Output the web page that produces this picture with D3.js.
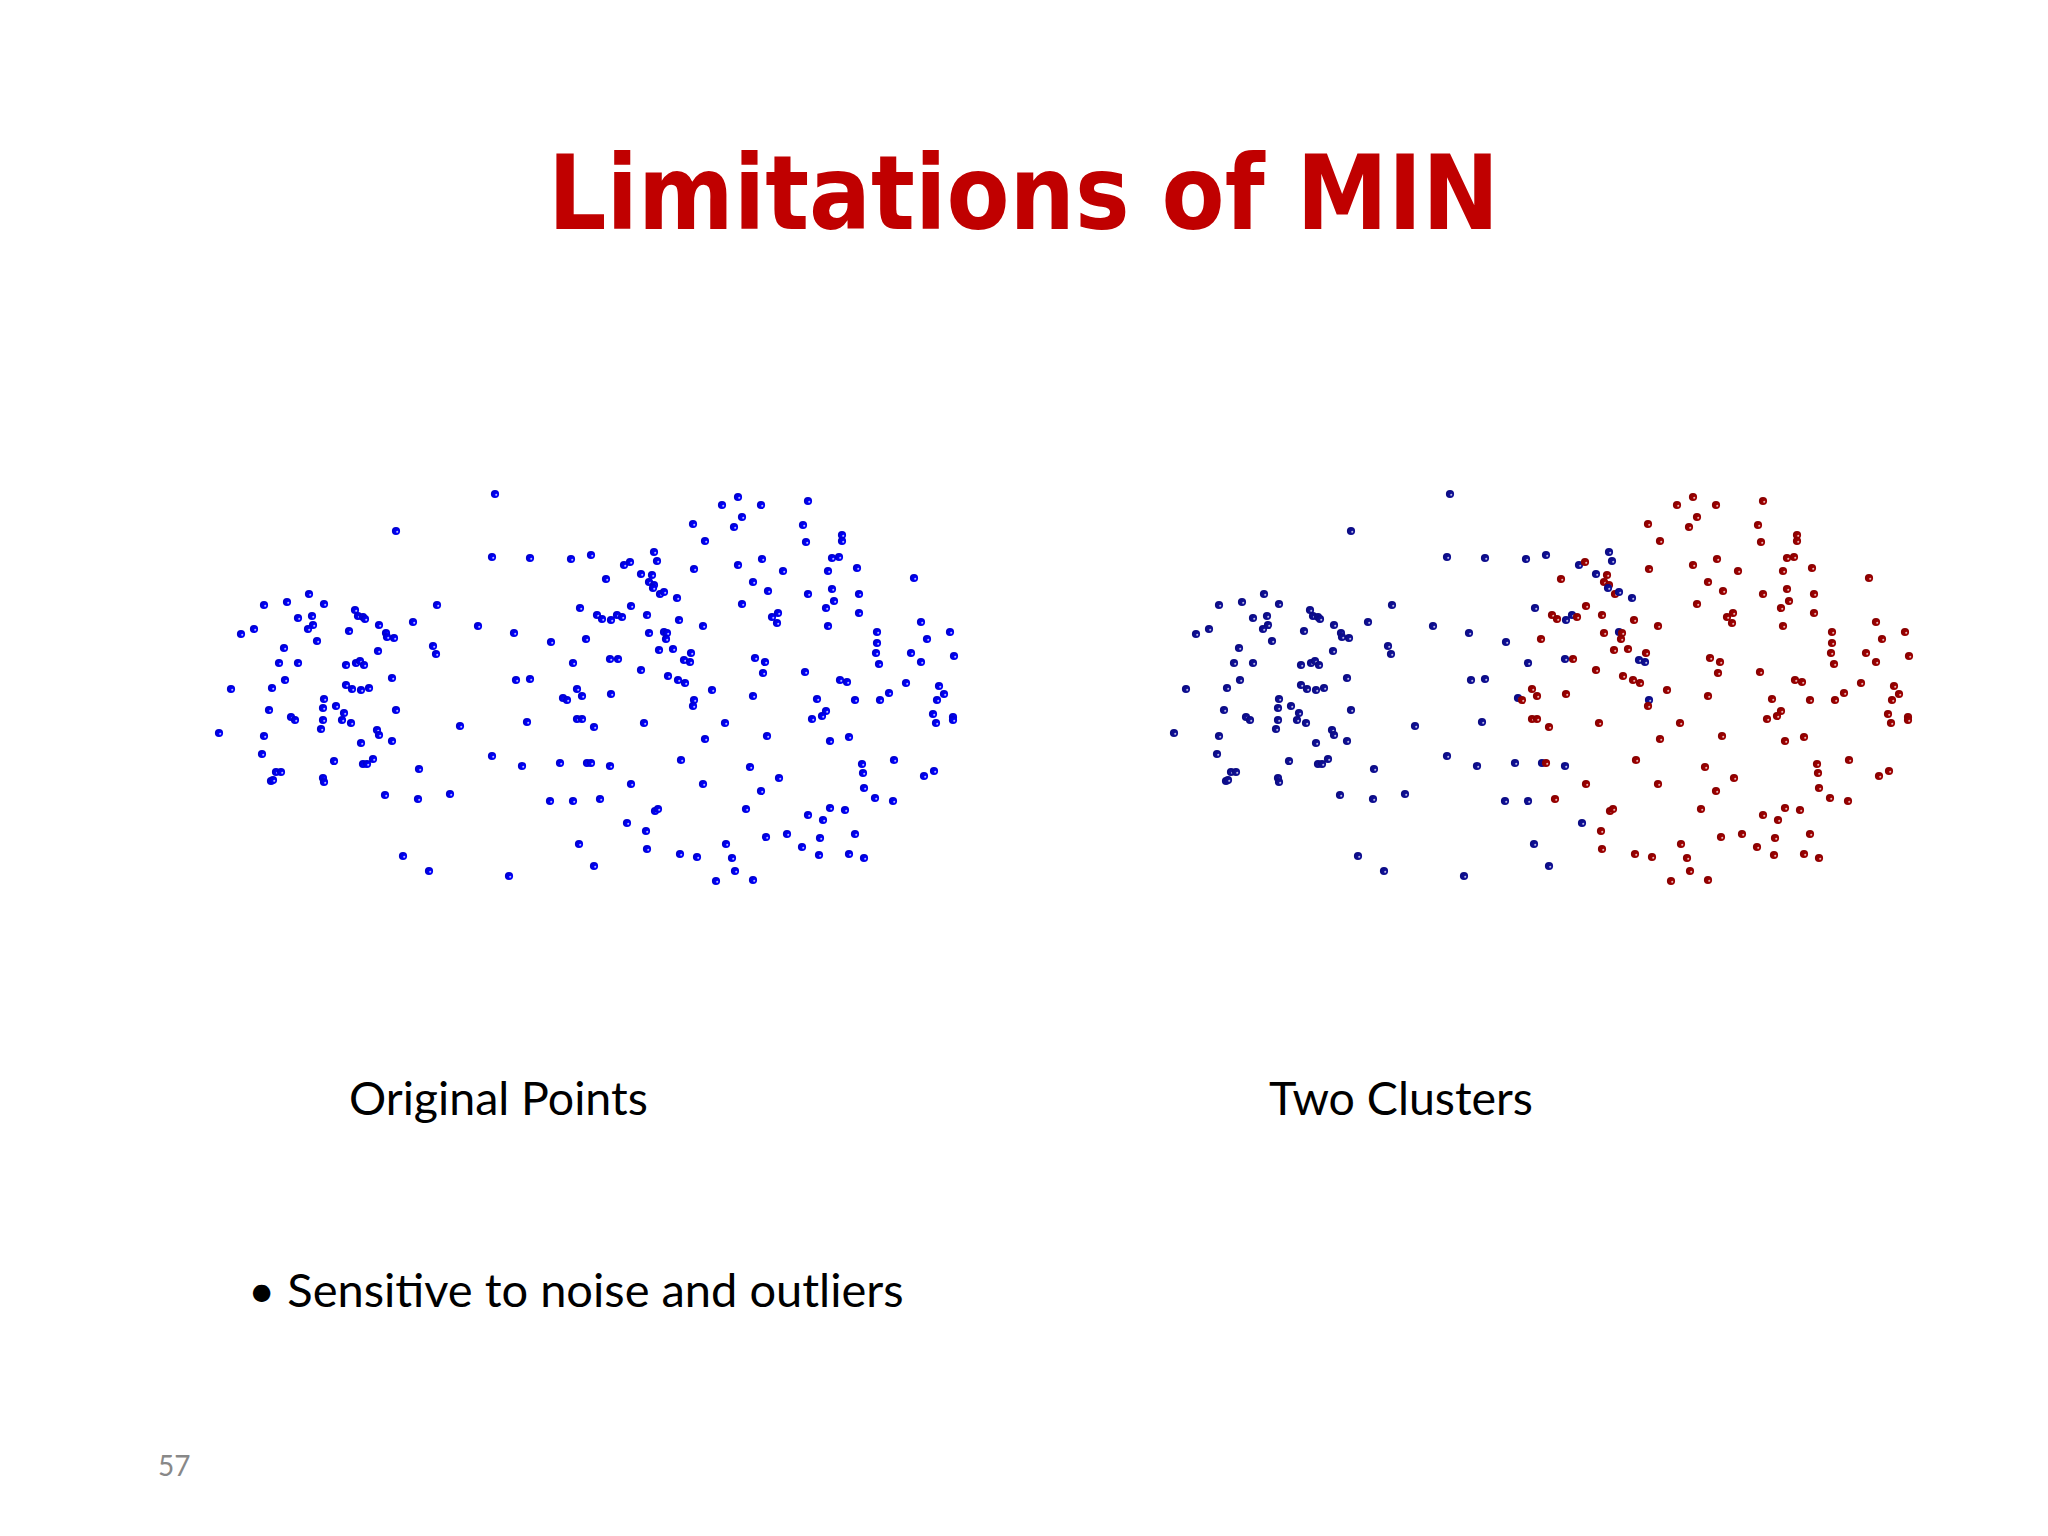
<!DOCTYPE html>
<meta charset="utf-8">
<style>
body { margin: 0; background: #fff; }
.label { font-family: Lato, "Open Sans", sans-serif; fill: #000; }
</style>
<script src="https://cdn.jsdelivr.net/npm/d3@7"></script>
<body>
<script>

var width = 2048,
    height = 1536;

// point positions in the slide's data space; c = cluster (0 left, 1 right)
var pointsA = [
  [495,494,0],[396,531,0],[492,557,0],[530,558,0],[571,559,0],[309,594,0],[264,605,0],[287,602,0],
  [324,604,0],[437,605,0],[580,608,0],[298,618,0],[312,616,0],[355,610,0],[358,616,0],[363,617,0],
  [365,619,0],[313,625,0],[308,629,0],[254,629,0],[241,634,0],[349,631,0],[379,625,0],[413,622,0],
  [386,633,0],[387,637,0],[394,638,0],[478,626,0],[514,633,0],[551,642,0],[317,641,0],[284,648,0],
  [378,651,0],[433,646,0],[436,654,0],[279,663,0],[298,663,0],[346,665,0],[356,663,0],[360,661,0],
  [364,665,0],[573,663,0],[392,678,0],[516,680,0],[530,679,0],[231,689,0],[272,688,0],[285,680,0],
  [346,685,0],[352,689,0],[361,690,0],[369,688,0],[577,689,1],[563,698,0],[567,700,1],[582,696,1],
  [324,699,0],[323,708,0],[269,710,0],[336,706,0],[344,713,0],[342,720,0],[351,723,0],[291,717,0],
  [295,720,0],[323,720,0],[321,729,0],[396,710,0],[377,730,0],[379,735,0],[460,726,0],[527,722,0],
  [577,719,1],[582,719,1],[219,733,0],[264,736,0],[361,743,0],[392,741,0],[262,754,0],[492,756,0],
  [334,761,0],[363,764,0],[367,764,0],[373,759,0],[419,769,0],[522,766,0],[560,763,0],[276,772,0],
  [281,772,0],[271,781,0],[273,780,0],[323,778,0],[324,782,0],[385,795,0],[418,799,0],[450,794,0],
  [550,801,0],[573,801,0],[579,844,0],[403,856,0],[429,871,0],[509,876,0]
];

var pointsB = [
  [738,497,1],[722,505,1],[761,505,1],[808,501,1],[742,517,1],[734,527,1],[693,524,1],[803,525,1],
  [705,541,1],[806,542,1],[842,535,1],[842,541,1],[591,555,0],[654,552,0],[657,561,0],[624,565,0],
  [630,562,1],[738,565,1],[762,559,1],[832,558,1],[839,557,1],[694,569,1],[783,571,1],[828,571,1],
  [857,568,1],[914,578,1],[606,579,1],[641,574,0],[652,575,1],[649,582,1],[654,585,1],[653,588,0],
  [660,594,1],[664,592,0],[677,598,0],[753,582,1],[768,591,1],[808,594,1],[832,589,1],[859,594,1],
  [834,601,1],[826,608,1],[742,604,1],[631,606,1],[597,615,1],[602,619,1],[611,620,0],[617,615,0],
  [622,617,1],[647,615,1],[679,620,1],[703,626,1],[772,617,1],[778,613,1],[777,623,1],[828,626,1],
  [859,613,1],[586,639,1],[649,633,1],[664,632,0],[667,633,1],[666,639,1],[921,622,1],[950,632,1],
  [927,639,1],[877,632,1],[877,643,1],[876,653,1],[879,664,1],[911,653,1],[921,662,1],[954,656,1],
  [659,650,1],[673,649,1],[691,653,1],[684,660,0],[690,662,0],[610,659,0],[618,659,1],[641,670,1],
  [755,658,1],[765,662,1],[763,673,1],[805,672,1],[668,676,1],[678,680,1],[685,683,1],[840,680,1],
  [847,682,1],[906,683,1],[939,686,1],[944,694,1],[937,700,1],[889,693,1],[880,700,1],[855,700,1],
  [817,699,1],[712,690,1],[611,694,1],[753,696,1],[694,700,0],[693,706,1],[826,711,1],[822,716,1],
  [812,719,1],[933,714,1],[936,723,1],[953,717,1],[953,720,1],[644,723,1],[725,723,1],[594,727,1],
  [705,739,1],[767,736,1],[830,741,1],[849,737,1],[587,763,0],[591,763,1],[610,766,0],[681,760,1],
  [750,767,1],[862,764,1],[863,773,1],[894,760,1],[924,776,1],[934,771,1],[631,784,1],[703,784,1],
  [779,778,1],[761,791,1],[864,788,1],[875,798,1],[893,801,1],[600,799,1],[655,811,1],[658,809,1],
  [746,809,1],[808,815,1],[823,820,1],[830,808,1],[845,810,1],[627,823,0],[646,831,1],[766,837,1],
  [787,834,1],[820,838,1],[855,834,1],[647,849,1],[680,854,1],[697,857,1],[726,844,1],[732,858,1],
  [802,847,1],[819,855,1],[849,854,1],[864,858,1],[594,866,0],[735,871,1],[716,881,1],[753,880,1]
];

var points = pointsA.concat(pointsB);

var title = "Limitations of MIN";
var panelTitles = ["Original Points", "Two Clusters"];
var bullet = "\u2022 Sensitive to noise and outliers";
var pageNumber = "57";

var svg = d3.select("body")
  .append("svg")
  .attr("width", width)
  .attr("height", height);

var defs = svg.append("defs");
function ball(id, col, dark) {
  var g = defs.append("radialGradient").attr("id", id)
    .attr("cx", "65%").attr("cy", "60%").attr("r", "60%");
  g.append("stop").attr("offset", "0%").attr("stop-color", "#fff");
  g.append("stop").attr("offset", "30%").attr("stop-color", col);
  g.append("stop").attr("offset", "100%").attr("stop-color", dark);
}
ball("gBlue", "#0000ff", "#0000c8");
ball("gNavy", "#101098", "#0a0a80");
ball("gRed", "#a00000", "#850000");

var y = d3.scaleLinear().domain([480, 900]).range([480, 900]);
var xLeft = d3.scaleLinear().domain([200, 980]).range([200, 980]);
var xRight = d3.scaleLinear().domain([200, 980]).range([1155, 1935]);

svg.append("g").selectAll("circle")
  .data(points)
  .enter().append("circle")
    .attr("cx", function (d) { return xLeft(d[0]); })
    .attr("cy", function (d) { return y(d[1]); })
    .attr("r", 4.1)
    .attr("fill", "url(#gBlue)");

svg.append("g").selectAll("circle")
  .data(points)
  .enter().append("circle")
    .attr("cx", function (d) { return xRight(d[0]); })
    .attr("cy", function (d) { return y(d[1]); })
    .attr("r", 4.1)
    .attr("fill", function (d) { return d[2] ? "url(#gRed)" : "url(#gNavy)"; });

svg.append("text")
  .attr("x", 548).attr("y", 229)
  .attr("textLength", 951).attr("lengthAdjust", "spacingAndGlyphs")
  .attr("font-family", "'DejaVu Sans', Verdana, sans-serif")
  .attr("font-weight", "bold")
  .attr("font-size", 104)
  .attr("fill", "#c00000")
  .text(title);

svg.append("text").attr("class", "label")
  .attr("x", 349).attr("y", 1115).attr("font-size", 46.5)
  .text(panelTitles[0]);

svg.append("text").attr("class", "label")
  .attr("x", 1269).attr("y", 1115).attr("font-size", 46.5)
  .text(panelTitles[1]);

svg.append("text").attr("class", "label")
  .attr("x", 248).attr("y", 1307).attr("font-size", 47)
  .text(bullet);

svg.append("text").attr("class", "label")
  .attr("x", 158).attr("y", 1476).attr("font-size", 28)
  .style("fill", "#888")
  .text(pageNumber);

</script>
</body>
